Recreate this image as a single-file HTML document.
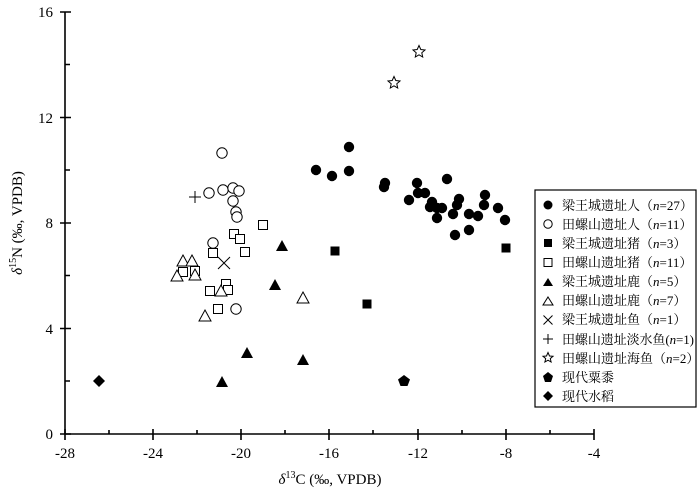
<!DOCTYPE html>
<html><head><meta charset="utf-8"><style>body{margin:0;background:#fff}svg{display:block}</style></head><body>
<svg width="700" height="494" xmlns="http://www.w3.org/2000/svg" font-family="'Liberation Serif','Noto Serif CJK SC',serif">
<g stroke="#000" stroke-width="1.6" fill="none">
<line x1="65" y1="12" x2="65" y2="434"/><line x1="65" y1="434" x2="594" y2="434"/>
<path d="M65 429V440M153 429V440M241 429V440M329 429V440M418 429V440M506 429V440M594 429V440M109 430V434M197 430V434M285 430V434M373 430V434M462 430V434M550 430V434"/>
<path d="M60 434H71M60 328.5H71M60 223H71M60 117.5H71M60 12H71M65 381H70M65 275.5H70M65 170H70M65 64.5H70"/>
</g>
<g font-size="15" text-anchor="middle">
<text x="65" y="458">-28</text><text x="153" y="458">-24</text><text x="241" y="458">-20</text><text x="329" y="458">-16</text><text x="418" y="458">-12</text><text x="506" y="458">-8</text><text x="594" y="458">-4</text>
</g>
<g font-size="15" text-anchor="end">
<text x="53" y="439">0</text><text x="53" y="334">4</text><text x="53" y="228">8</text><text x="53" y="123">12</text><text x="53" y="17">16</text>
</g>
<text x="330" y="484" font-size="15" text-anchor="middle"><tspan font-style="italic">δ</tspan><tspan font-size="10" dy="-6">13</tspan><tspan dy="6">C (‰, VPDB)</tspan></text>
<text transform="translate(22,223) rotate(-90)" font-size="15" text-anchor="middle"><tspan font-style="italic">δ</tspan><tspan font-size="10" dy="-6">15</tspan><tspan dy="6">N (‰, VPDB)</tspan></text>
<defs>
<circle id="c" r="5.2"/>
<rect id="s" x="-4.5" y="-4.5" width="9" height="9"/>
<path id="t" d="M0 -6L6 5H-6Z"/>
</defs>
<g fill="#000">
<use href="#c" x="316" y="170"/><use href="#c" x="332" y="176"/><use href="#c" x="349" y="147"/><use href="#c" x="349" y="171"/>
<use href="#c" x="385" y="183"/><use href="#c" x="384" y="187"/><use href="#c" x="417" y="183"/><use href="#c" x="418" y="193"/><use href="#c" x="425" y="193"/><use href="#c" x="409" y="200"/><use href="#c" x="432" y="202"/><use href="#c" x="430" y="207"/><use href="#c" x="437" y="208"/><use href="#c" x="442" y="208"/><use href="#c" x="447" y="179"/><use href="#c" x="459" y="199"/><use href="#c" x="457" y="205"/><use href="#c" x="453" y="214"/><use href="#c" x="437" y="218"/><use href="#c" x="469" y="214"/><use href="#c" x="478" y="216"/><use href="#c" x="485" y="195"/><use href="#c" x="484" y="205"/><use href="#c" x="498" y="208"/><use href="#c" x="505" y="220"/><use href="#c" x="455" y="235"/><use href="#c" x="469" y="230"/>
<use href="#s" x="335" y="251"/><use href="#s" x="367" y="304"/><use href="#s" x="506" y="248"/>
<use href="#t" x="282" y="246"/><use href="#t" x="275" y="285"/><use href="#t" x="247" y="353"/><use href="#t" x="222" y="382"/><use href="#t" x="303" y="360"/>
<path d="M404 375L410 379.5L407.5 386H400.5L398 379.5Z"/>
<path d="M99 375L105 381L99 387L93 381Z"/>
</g>
<g fill="#fff" stroke="#000" stroke-width="1">
<use href="#c" x="222" y="153"/><use href="#c" x="209" y="193"/><use href="#c" x="223" y="190"/><use href="#c" x="233" y="188"/><use href="#c" x="239" y="191"/><use href="#c" x="233" y="201"/><use href="#c" x="236" y="212"/><use href="#c" x="237" y="217"/><use href="#c" x="213" y="243"/><use href="#c" x="236" y="309"/>
<use href="#s" x="263" y="225"/><use href="#s" x="234" y="234"/><use href="#s" x="240" y="239"/><use href="#s" x="245" y="252"/><use href="#s" x="213" y="253"/><use href="#s" x="183" y="272"/><use href="#s" x="195" y="271"/><use href="#s" x="210" y="291"/><use href="#s" x="226" y="284"/><use href="#s" x="228" y="290"/><use href="#s" x="218" y="309"/>
<use href="#t" x="183" y="261"/><use href="#t" x="192" y="261"/><use href="#t" x="177" y="276"/><use href="#t" x="195" y="275"/><use href="#t" x="221" y="291"/><use href="#t" x="303" y="298"/><use href="#t" x="205" y="316"/>
<path d="M419 45.5L420.8 49.5L425 50L421.8 52.8L422.7 57L419 54.8L415.3 57L416.2 52.8L413 50L417.2 49.5Z"/>
<path d="M394 76.5L395.8 80.5L400 81L396.8 83.8L397.7 88L394 85.8L390.3 88L391.2 83.8L388 81L392.2 80.5Z"/>
<path d="M218 257L230 269M230 257L218 269M189 197H201M195 191V203"/>
</g>
<rect x="535" y="190" width="161" height="217" fill="#fff" stroke="#000" stroke-width="1.2"/>
<g font-size="13" font-family="'Liberation Serif','Noto Serif CJK SC',serif">
<g fill="#000"><circle cx="548" cy="205" r="4.5"/><rect x="544" y="239" width="8" height="8"/><path d="M548 278L553 286H543Z"/><path d="M548 372L553 376L551 382H545L543 376Z"/><path d="M548 391L553 396L548 401L543 396Z"/></g>
<g fill="none" stroke="#000"><circle cx="548" cy="224" r="4.2"/><rect x="544" y="258.5" width="8" height="8"/><path d="M548 297L553 305H543Z"/><path d="M543.5 315.5L552.5 324.5M552.5 315.5L543.5 324.5M543 339H553M548 334V344"/><path d="M548 352.5L549.5 356L553 356.3L550.3 358.6L551.1 362L548 360.2L544.9 362L545.7 358.6L543 356.3L546.5 356Z"/></g>
<text x="562" y="210">梁王城遗址人（<tspan font-style="italic">n</tspan>=27）</text>
<text x="562" y="229">田螺山遗址人（<tspan font-style="italic">n</tspan>=11）</text>
<text x="562" y="248">梁王城遗址猪（<tspan font-style="italic">n</tspan>=3）</text>
<text x="562" y="267">田螺山遗址猪（<tspan font-style="italic">n</tspan>=11）</text>
<text x="562" y="286">梁王城遗址鹿（<tspan font-style="italic">n</tspan>=5）</text>
<text x="562" y="305">田螺山遗址鹿（<tspan font-style="italic">n</tspan>=7）</text>
<text x="562" y="324">梁王城遗址鱼（<tspan font-style="italic">n</tspan>=1）</text>
<text x="562" y="344" textLength="132">田螺山遗址淡水鱼(<tspan font-style="italic">n</tspan>=1)</text>
<text x="562" y="363">田螺山遗址海鱼（<tspan font-style="italic">n</tspan>=2）</text>
<text x="562" y="382">现代粟黍</text>
<text x="562" y="401">现代水稻</text>
</g>
</svg>
</body></html>
